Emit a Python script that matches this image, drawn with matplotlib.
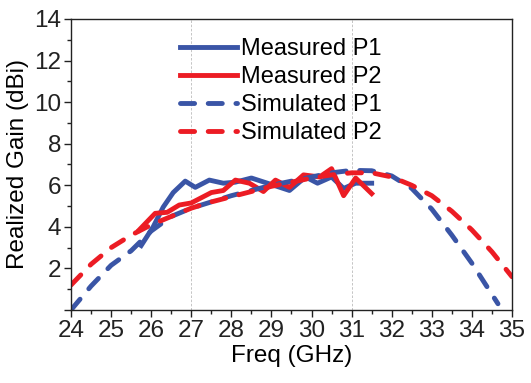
import matplotlib
matplotlib.use("Agg")
import matplotlib.pyplot as plt
from matplotlib.ticker import MultipleLocator, FuncFormatter

plt.rcParams['font.family'] = ['Liberation Sans', 'DejaVu Sans']

freq_m1 = [25.75, 26.05, 26.3, 26.55, 26.85, 27.1, 27.45, 27.8, 28.1, 28.5, 28.9, 29.45, 29.85, 30.15, 30.5, 30.8, 31.1, 31.5]
gain_m1 = [3.1, 4.0, 4.95, 5.65, 6.2, 5.9, 6.25, 6.1, 6.15, 6.35, 6.1, 5.75, 6.4, 6.1, 6.4, 5.85, 6.1, 6.1]

freq_m2 = [25.7, 26.1, 26.4, 26.7, 27.0, 27.5, 27.8, 28.1, 28.45, 28.8, 29.1, 29.45, 29.8, 30.2, 30.5, 30.8, 31.1, 31.5]
gain_m2 = [3.85, 4.65, 4.7, 5.05, 5.15, 5.65, 5.75, 6.25, 6.1, 5.7, 6.25, 5.9, 6.5, 6.4, 6.8, 5.5, 6.35, 5.6]

# simulated data
freq_s1 = [24.0, 24.5, 25.0, 25.5, 26.0, 26.5, 27.0, 27.5, 28.0, 28.5, 29.0, 29.5, 30.0, 30.5, 31.0, 31.5, 32.0, 32.5, 33.0, 33.5, 34.0, 34.5, 34.65]
gain_s1 = [0.0, 1.15, 2.15, 2.85, 3.8, 4.5, 4.9, 5.2, 5.5, 5.75, 6.0, 6.2, 6.4, 6.6, 6.72, 6.7, 6.45, 5.85, 4.85, 3.6, 2.25, 0.75, 0.3]

freq_s2 = [24.0, 24.5, 25.0, 25.5, 26.0, 26.5, 27.0, 27.5, 28.0, 28.5, 29.0, 29.5, 30.0, 30.5, 31.0, 31.5, 32.0, 32.5, 33.0, 33.5, 34.0, 34.5, 35.0]
gain_s2 = [1.2, 2.2, 3.0, 3.6, 4.1, 4.5, 4.9, 5.2, 5.45, 5.7, 5.95, 6.15, 6.35, 6.5, 6.6, 6.6, 6.4, 6.0, 5.5, 4.75, 3.85, 2.8, 1.6]

blue = '#3A55A6'
red = '#EC1C24'

fig = plt.figure(figsize=(5.31, 3.83), dpi=100)
ax = fig.add_axes([0.1337, 0.1906, 0.8305, 0.7598])

# light grid lines at 27 and 31
for xv in [27, 31]:
    ax.axvline(xv, color='#bbbbbb', lw=0.6, ls=(0, (3, 2)), zorder=0)

lw = 3.5
ax.plot(freq_m1, gain_m1, color=blue, lw=lw, label='Measured P1', solid_joinstyle='round')
ax.plot(freq_m2, gain_m2, color=red, lw=lw, label='Measured P2', solid_joinstyle='round')
ax.plot(freq_s1, gain_s1, color=blue, lw=lw, ls=(0, (2.9, 2.8)), dash_capstyle='round', label='Simulated P1')
ax.plot(freq_s2, gain_s2, color=red, lw=lw, ls=(0, (2.9, 2.8)), dash_capstyle='round', label='Simulated P2')

ax.set_xlim(24, 35)
ax.set_ylim(0, 14)
ax.xaxis.set_major_locator(MultipleLocator(1))
ax.xaxis.set_minor_locator(MultipleLocator(0.5))
ax.yaxis.set_major_locator(MultipleLocator(2))
ax.yaxis.set_minor_locator(MultipleLocator(1))
ax.yaxis.set_major_formatter(FuncFormatter(lambda v, p: '' if v == 0 else '%d' % v))
ax.tick_params(which='major', direction='out', length=5, width=1, labelsize=17.5, pad=2, colors='#222222')
ax.tick_params(which='minor', direction='out', length=3, width=1, colors='#222222')
for s in ax.spines.values():
    s.set_color('#222222')
    s.set_linewidth(1)

ax.set_xlabel('Freq (GHz)', fontsize=17.5, labelpad=2)
ax.set_ylabel('Realized Gain (dBi)', fontsize=17.5, labelpad=4)

ax.legend(loc='upper left', bbox_to_anchor=(0.247, 0.935), frameon=False, fontsize=17,
          handlelength=2.4, handletextpad=0.2, labelspacing=0.26, borderpad=0, borderaxespad=0)

fig.savefig('out.png', dpi=100)
